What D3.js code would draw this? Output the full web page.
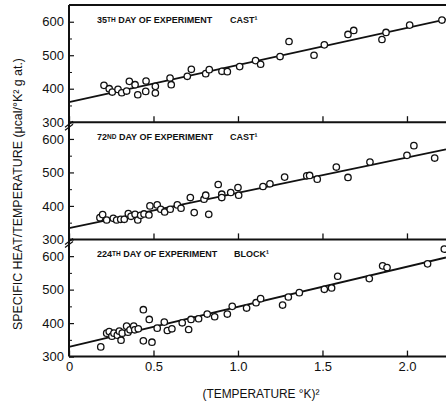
<!DOCTYPE html>
<html>
<head>
<meta charset="utf-8">
<script src="https://d3js.org/d3.v7.min.js"></script>
<style>
  body { margin: 0; background: #fff; }
  svg { display: block; }
  text { font-family: "Liberation Sans", Arial, sans-serif; fill: #111; }
</style>
</head>
<body>
<svg width="446" height="404"></svg>
<script>
// values: [ (T °K)^2 , C/T ]
var day35 = [
  [0.207,410],[0.238,400],[0.256,390],[0.290,398],[0.312,388],[0.341,393],
  [0.357,422],[0.391,412],[0.407,382],[0.456,423],[0.454,392],[0.511,407],
  [0.511,387],[0.598,432],[0.605,412],[0.700,437],[0.724,458],[0.809,445],
  [0.830,457],[0.905,452],[0.937,451],[1.010,466],[1.104,484],[1.134,473],
  [1.249,496],[1.302,541],[1.450,500],[1.511,531],[1.651,562],[1.685,574],
  [1.852,547],[1.876,568],[2.016,590],[2.207,605]
];
var day72 = [
  [0.183,365],[0.199,374],[0.223,358],[0.262,363],[0.282,358],[0.306,360],
  [0.327,360],[0.351,377],[0.367,369],[0.391,375],[0.407,358],[0.424,372],
  [0.444,376],[0.473,373],[0.479,400],[0.522,403],[0.543,390],[0.566,382],
  [0.599,390],[0.641,403],[0.663,393],[0.718,425],[0.741,380],[0.799,420],
  [0.809,432],[0.827,375],[0.883,464],[0.904,435],[0.904,425],[0.957,440],
  [1.000,455],[1.004,432],[1.148,458],[1.189,466],[1.276,486],[1.407,490],
  [1.424,491],[1.469,480],[1.582,516],[1.651,485],[1.781,531],[2.000,551],
  [2.041,580],[2.164,543]
];
var day224 = [
  [0.188,329],[0.223,370],[0.238,375],[0.254,361],[0.266,370],[0.286,364],
  [0.298,376],[0.308,349],[0.315,370],[0.341,391],[0.349,373],[0.361,380],
  [0.383,391],[0.389,380],[0.410,383],[0.440,440],[0.440,347],[0.475,411],
  [0.491,343],[0.522,385],[0.564,403],[0.582,378],[0.609,383],[0.670,401],
  [0.708,381],[0.722,411],[0.767,413],[0.818,427],[0.862,419],[0.937,427],
  [0.966,450],[1.051,445],[1.107,461],[1.134,473],[1.264,454],[1.298,478],
  [1.363,491],[1.511,501],[1.554,505],[1.590,540],[1.777,533],[1.856,571],
  [1.882,566],[2.122,577],[2.221,621]
];
// straight lines through each set (end points)
var fit35  = [[0,360],[2.231,607]];
var fit72  = [[0,334],[2.231,569]];
var fit224 = [[0,329],[2.231,596]];

var dayNums   = ["35", "72", "224"];
var daySuffix = ["TH", "ND", "TH"];
var forms     = ["CAST\u00b9", "CAST\u00b9", "BLOCK\u00b9"];
var yTicks      = [300, 400, 500, 600];
var yMinorTicks = [350, 450, 550];
var xTicks      = [0, 0.5, 1.0, 1.5, 2.0];
var xTickLabels = ["0", "0.5", "1.0", "1.5", "2.0"];

var series = [day35, day72, day224];
var fits = [fit35, fit72, fit224];

var svg = d3.select("svg");
var left = 69, right = 446, top0 = 5, panelH = 117.2;

var x = d3.scaleLinear().domain([0, 2.231]).range([left, right]);

series.forEach(function(data, i) {
    var top = top0 + i * panelH;
    var bottom = top + panelH;
    var y = d3.scaleLinear().domain([300, 650]).range([bottom, top]);
    var g = svg.append("g");

    // y axis, ticks pointing in
    var ya = g.append("g")
        .attr("transform", "translate(" + left + ",0)")
        .call(d3.axisLeft(y).tickValues(yTicks).tickSize(-5).tickPadding(5));
    ya.select(".domain").remove();
    ya.selectAll("line").attr("stroke", "#111").attr("stroke-width", 1.2);
    ya.selectAll("text").style("font-size", "13px").attr("fill", "#111");

    var ym = g.append("g")
        .attr("transform", "translate(" + left + ",0)")
        .call(d3.axisLeft(y).tickValues(yMinorTicks).tickSize(-3).tickFormat(""));
    ym.select(".domain").remove();
    ym.selectAll("line").attr("stroke", "#111").attr("stroke-width", 1);

    // x ticks on the bottom of each panel
    var xa = g.append("g")
        .attr("transform", "translate(0," + bottom + ")")
        .call(d3.axisBottom(x).tickValues(xTicks).tickSize(-6).tickPadding(5)
              .tickFormat(function(d, j) { return i == 2 ? xTickLabels[j] : ""; }));
    xa.select(".domain").remove();
    xa.selectAll("line").attr("stroke", "#111").attr("stroke-width", 1.3);
    xa.selectAll("text").style("font-size", "13px").attr("fill", "#111");

    // frame lines
    g.append("line")
        .attr("x1", left).attr("x2", right)
        .attr("y1", bottom).attr("y2", bottom)
        .attr("stroke", "#111").attr("stroke-width", 2);
    if (i == 0) {
        g.append("line")
            .attr("x1", left).attr("x2", right)
            .attr("y1", top).attr("y2", top)
            .attr("stroke", "#111").attr("stroke-width", 2);
    }

    // fitted line
    g.append("path")
        .datum(fits[i])
        .attr("d", d3.line().x(function(d) { return x(d[0]); }).y(function(d) { return y(d[1]); }))
        .attr("fill", "none")
        .attr("stroke", "#111")
        .attr("stroke-width", 1.8);

    // points
    g.selectAll("circle")
        .data(data)
        .enter()
        .append("circle")
        .attr("cx", function(d) { return x(d[0]); })
        .attr("cy", function(d) { return y(d[1]); })
        .attr("r", 3.2)
        .attr("fill", "#fff")
        .attr("stroke", "#111")
        .attr("stroke-width", 1.3);

    // titles
    var t = g.append("text")
        .attr("x", 97)
        .attr("y", top + 18)
        .style("font-size", "9px")
        .style("font-weight", "bold");
    t.append("tspan").text(dayNums[i]);
    t.append("tspan").text(daySuffix[i]).style("font-size", "6.5px").attr("dy", -1.5);
    t.append("tspan").text(" DAY OF EXPERIMENT").attr("dy", 1.5);

    g.append("text")
        .attr("x", i == 2 ? 234 : 230)
        .attr("y", top + 18)
        .style("font-size", "9px")
        .style("font-weight", "bold")
        .text(forms[i]);

    // axis break marks
    if (i > 0) {
        g.append("path")
            .attr("d", "M65," + (top + 5) + " L73," + (top - 1) + " M65," + (top + 8) + " L73," + (top + 2))
            .attr("stroke", "#111").attr("stroke-width", 1.2).attr("fill", "none");
    }
});

// left axis line
svg.append("line")
    .attr("x1", left).attr("x2", left)
    .attr("y1", top0).attr("y2", top0 + 3 * panelH)
    .attr("stroke", "#111").attr("stroke-width", 2);

// axis titles
svg.append("text")
    .attr("transform", "translate(18,194) rotate(-90)")
    .attr("text-anchor", "middle")
    .attr("dominant-baseline", "central")
    .attr("textLength", 272)
    .attr("lengthAdjust", "spacingAndGlyphs")
    .style("font-size", "12.5px")
    .text("SPECIFIC HEAT/TEMPERATURE (\u03bccal/\u00b0K\u00b2 g at.)");

svg.append("text")
    .attr("x", 261)
    .attr("y", 398)
    .attr("text-anchor", "middle")
    .attr("textLength", 117)
    .attr("lengthAdjust", "spacingAndGlyphs")
    .style("font-size", "12px")
    .text("(TEMPERATURE \u00b0K)\u00b2");
</script>
</body>
</html>
